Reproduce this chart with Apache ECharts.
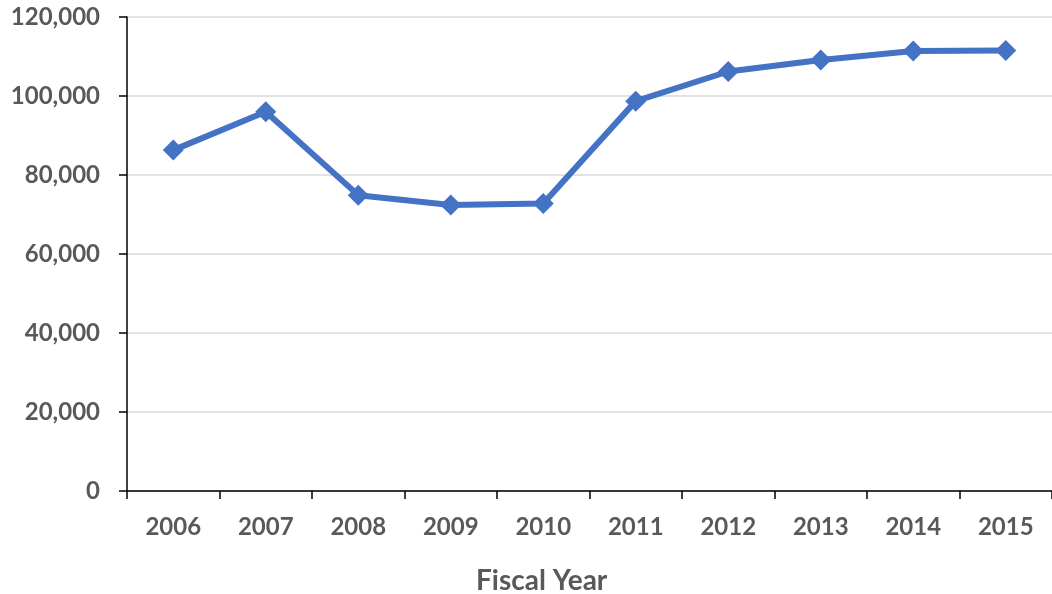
<!DOCTYPE html>
<html>
<head>
<meta charset="utf-8">
<script src="https://cdn.jsdelivr.net/npm/echarts@6/dist/echarts.min.js"></script>
<style>
  html, body { margin: 0; padding: 0; background: #ffffff; }
  #chart { width: 1052px; height: 594px; }
</style>
</head>
<body>
<div id="chart"></div>
<script>
// Fiscal years along the horizontal axis
const years = ['2006', '2007', '2008', '2009', '2010', '2011', '2012', '2013', '2014', '2015'];
// Yearly totals
const totals = [86300, 96000, 74900, 72400, 72800, 98700, 106200, 109100, 111400, 111500];
// Value axis ticks
const yTicks = [0, 20000, 40000, 60000, 80000, 100000, 120000];

const labelFont = 'Lato, "Open Sans", sans-serif';
const labelColor = '#595959';

const chart = echarts.init(document.getElementById('chart'), null, { renderer: 'canvas' });

chart.setOption({
  animation: false,
  title: {
    text: 'Fiscal Year',
    left: 471,
    top: 562,
    textStyle: { fontFamily: labelFont, fontWeight: 'bold', fontSize: 28, color: labelColor }
  },
  grid: { left: 127, top: 17, width: 934, height: 474, containLabel: false },
  xAxis: {
    type: 'category',
    data: years,
    boundaryGap: true,
    axisLine: { show: true, lineStyle: { color: '#000000', width: 1.5 } },
    axisTick: { show: true, length: 8, alignWithLabel: false, lineStyle: { color: '#000000', width: 1.5 } },
    axisLabel: { margin: 24, fontFamily: labelFont, fontWeight: 'bold', fontSize: 24, color: labelColor },
    splitLine: { show: false }
  },
  yAxis: {
    type: 'value',
    min: yTicks[0],
    max: yTicks[yTicks.length - 1],
    interval: yTicks[1] - yTicks[0],
    axisLine: { show: true, lineStyle: { color: '#000000', width: 1.5 } },
    axisTick: { show: true, length: 8, lineStyle: { color: '#000000', width: 1.5 } },
    axisLabel: {
      margin: 27,
      fontFamily: labelFont, fontWeight: 'bold', fontSize: 24, color: labelColor,
      formatter: v => v.toLocaleString('en-US')
    },
    splitLine: { show: true, lineStyle: { color: '#d9d9d9', width: 1.5 } }
  },
  series: [{
    type: 'line',
    data: totals,
    symbol: 'diamond',
    symbolSize: 21,
    lineStyle: { color: '#4472C4', width: 6 },
    itemStyle: { color: '#4472C4' }
  }]
});
</script>
</body>
</html>
